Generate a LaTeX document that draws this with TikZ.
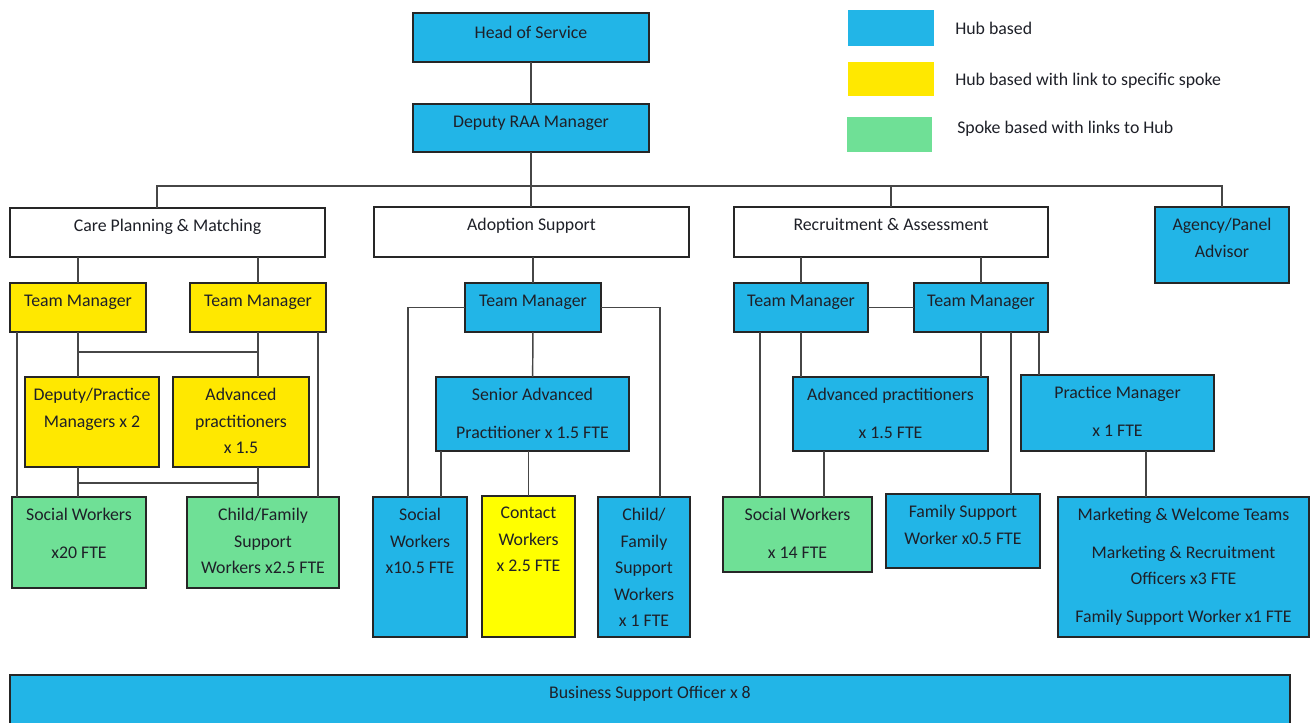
\documentclass[tikz,border=0pt]{standalone}
\usepackage{fontspec}
\setmainfont{Carlito}
\usetikzlibrary{fit}
\definecolor{hubblue}{RGB}{34,181,231}
\definecolor{hubyellow}{RGB}{255,232,0}
\definecolor{brightyellow}{RGB}{255,255,0}
\definecolor{spokegreen}{RGB}{111,224,150}
\definecolor{linkgrey}{RGB}{70,70,70}
\definecolor{txtcol}{RGB}{30,32,40}
\tikzset{boxframe/.style={draw=black!85, line width=1pt, inner sep=0pt, outer sep=0pt},
  hub/.style={boxframe, fill=hubblue},
  hubspoke/.style={boxframe, fill=hubyellow},
  contact/.style={boxframe, fill=brightyellow},
  spoke/.style={boxframe, fill=spokegreen},
  unitbox/.style={boxframe, fill=white},
  legendbox/.style={inner sep=0pt, outer sep=0pt},
  txt/.style={anchor=north, align=center, text=txtcol, inner sep=0pt,
    font=\fontsize{13.35}{19.9}\selectfont, execute at begin node=\strut},
  lower/.style={yshift=-4.9pt},
  link/.style={linkgrey, line width=1.1pt}}
\newcommand\orgbox[6][]{%
  \node[#3, fit={#4 #5}] (#2) {};
  \node[txt,#1] (#2-t) at ([yshift=-3.32pt]#2.north) {#6};}

\begin{document}
\begin{tikzpicture}[x=0.75pt,y=-0.75pt]
  \useasboundingbox[fill=white] (0,0) rectangle (1311,722);

  \orgbox[yshift=-1.5pt]{hos}{hub}{(413,13)}{(649,62)}{Head of Service}
  \orgbox{dep}{hub}{(413,104)}{(649,152)}{Deputy RAA Manager}

  \node[legendbox, fill=hubblue,    fit={(848,10) (934,46)}]   (leg1) {};
  \node[legendbox, fill=hubyellow,  fit={(848,62) (934,96)}]   (leg2) {};
  \node[legendbox, fill=spokegreen, fit={(847,117) (932,152)}] (leg3) {};
  \node[txt, anchor=base west] (leg1-t) at (955,34)  {Hub based};
  \node[txt, anchor=base west] (leg2-t) at (955,85)  {Hub based with link to specific spoke};
  \node[txt, anchor=base west] (leg3-t) at (957,133) {Spoke based with links to Hub};

  \orgbox{cpm}{unitbox}{(10,208)}{(325,257)}{Care Planning \& Matching}
  \orgbox{ado}{unitbox}{(374,207)}{(689,257)}{Adoption Support}
  \orgbox{ra}{unitbox}{(734,207)}{(1048,257)}{Recruitment \& Assessment}
  \orgbox[lower]{agy}{hub}{(1155,207)}{(1289,283)}{Agency/Panel\\Advisor}

  \orgbox{tm1}{hubspoke}{(10,283)}{(146,332)}{Team Manager}
  \orgbox{tm2}{hubspoke}{(190,283)}{(326,332)}{Team Manager}
  \orgbox[lower]{dpm}{hubspoke}{(25,377)}{(159,467)}{Deputy/Practice\\Managers x 2}
  \orgbox[lower]{ap1}{hubspoke}{(173,377)}{(309,467)}{Advanced\\practitioners\\x 1.5}
  \orgbox[lower]{sw1}{spoke}{(12,497)}{(146,588)}{Social Workers\\[8.25pt]x20 FTE}
  \orgbox[lower]{cf1}{spoke}{(187,497)}{(339,588)}{Child/Family\\Support\\Workers x2.5 FTE}

  \orgbox{tm3}{hub}{(465,283)}{(601,332)}{Team Manager}
  \orgbox[lower]{sap}{hub}{(436,377)}{(629,451)}{Senior Advanced\\[8.25pt]Practitioner x 1.5 FTE}
  \orgbox[lower]{sw2}{hub}{(373,497)}{(467,637)}{Social\\Workers\\x10.5 FTE}
  \orgbox[lower]{cw}{contact}{(482,496)}{(575,637)}{Contact\\Workers\\x 2.5 FTE}
  \orgbox[lower]{cf2}{hub}{(598,497)}{(690,637)}{Child/\\Family\\Support\\Workers\\x 1 FTE}

  \orgbox{tm4}{hub}{(734,283)}{(868,332)}{Team Manager}
  \orgbox{tm5}{hub}{(914,283)}{(1048,332)}{Team Manager}
  \orgbox[lower]{ap2}{hub}{(793,377)}{(988,451)}{Advanced practitioners\\[8.25pt]x 1.5 FTE}
  \orgbox[lower]{pm}{hub}{(1021,375)}{(1214,451)}{Practice Manager\\[8.25pt]x 1 FTE}
  \orgbox[lower]{sw3}{spoke}{(723,497)}{(872,572)}{Social Workers\\[8.25pt]x 14 FTE}
  \orgbox[lower]{fs}{hub}{(886,494)}{(1040,568)}{Family Support\\Worker x0.5 FTE}
  \orgbox[lower]{mk}{hub}{(1058,497)}{(1309,637)}{Marketing \& Welcome Teams\\[8.25pt]Marketing \& Recruitment\\Officers x3 FTE\\[8.25pt]Family Support Worker x1 FTE}

  \orgbox{bso}{hub}{(10,675)}{(1290,730)}{Business Support Officer x 8}

  \draw[link] (hos) -- (dep);
  \draw[link] (dep.south) -- (dep.south |- ado.north);
  \draw[link] ([xshift=-7.875pt]cpm.north) -- ++(0,-22) -| (agy.north);
  \draw[link] (ra.north) -- ++(0,-21);

  \draw[link] (tm1.north |- cpm.south) -- (tm1.north);
  \draw[link] (tm2.north |- cpm.south) -- (tm2.north);
  \coordinate (c1) at ([xshift=5.25pt]tm1.south west);
  \coordinate (c2) at ([xshift=-6pt]tm2.south east);
  \coordinate (h1) at (0,352);
  \coordinate (h2) at (0,483);
  \draw[link] (c1) -- (c1 |- sw1.north);
  \draw[link] (c2) -- (c2 |- cf1.north);
  \draw[link] (tm1.south) -- (tm1.south |- dpm.north);
  \draw[link] (tm2.south) -- (tm2.south |- ap1.north);
  \draw[link] (tm1.south |- h1) -- (tm2.south |- h1);
  \draw[link] (tm1.south |- dpm.south) -- (tm1.south |- sw1.north);
  \draw[link] (tm2.south |- ap1.south) -- (tm2.south |- cf1.north);
  \draw[link] (tm1.south |- h2) -- (tm2.south |- h2);

  \draw[link] (tm3.north |- ado.south) -- (tm3.north);
  \coordinate (a1) at ([xshift=-9pt]sw2.north);
  \coordinate (a2) at ([xshift=12pt]cf2.north);
  \coordinate (a3) at ([xshift=3.75pt]sap.south west);
  \draw[link] (tm3.west) -| (a1);
  \draw[link] (tm3.east) -| (a2);
  \draw[link] (tm3) -- (sap);
  \draw[link] (a3) -- (a3 |- sw2.north);
  \draw[link] (sap.south -| cw.north) -- (cw.north);

  \draw[link] (tm4.north |- ra.south) -- (tm4.north);
  \draw[link] (tm5.north |- ra.south) -- (tm5.north);
  \draw[link] (tm4.east) -- (tm5.west);
  \coordinate (r1) at ([xshift=19.5pt]tm4.south west);
  \coordinate (r2) at ([xshift=22.5pt]tm5.south);
  \coordinate (r3) at ([xshift=-6.75pt]tm5.south east);
  \coordinate (r4) at ([xshift=23.25pt]ap2.south west);
  \coordinate (r5) at ([xshift=21.4pt]pm.south);
  \draw[link] (r1) -- (r1 |- sw3.north);
  \draw[link] (tm4.south) -- (tm4.south |- ap2.north);
  \draw[link] (tm5.south) -- (tm5.south |- ap2.north);
  \draw[link] (r2) -- (r2 |- fs.north);
  \draw[link] (r3) -- (r3 |- pm.north);
  \draw[link] (r4) -- (r4 |- sw3.north);
  \draw[link] (r5) -- (r5 |- mk.north);
\end{tikzpicture}
\end{document}
